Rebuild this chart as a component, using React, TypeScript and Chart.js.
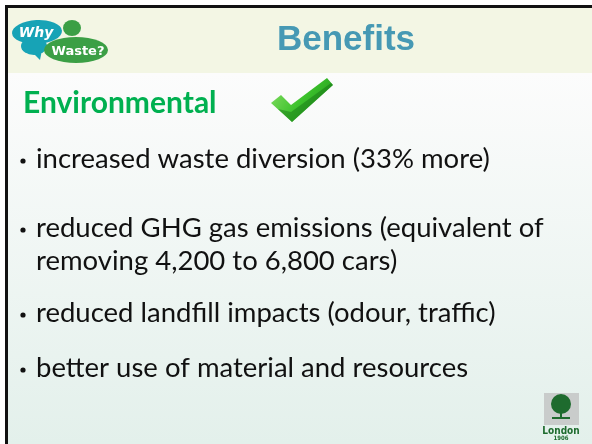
import React, { useEffect, useRef } from "react";
import { Chart, registerables } from "chart.js";

Chart.register(...registerables);

const slideTitle = "Benefits";
const heading = "Environmental";
const bulletLines: string[][] = [
  ["increased waste diversion (33% more)"],
  ["reduced GHG gas emissions (equivalent of", "removing 4,200 to 6,800 cars)"],
  ["reduced landfill impacts (odour, traffic)"],
  ["better use of material and resources"],
];
const logoWords = ["Why", "Waste?"];
const cornerLogoText = "London";

const BODY_FONT = '"Lato", "Open Sans", sans-serif';

const slidePlugin = {
  id: "slide",
  beforeDraw(chart: any) {
    const ctx: CanvasRenderingContext2D = chart.ctx;
    const sx = chart.scales.x;
    const sy = chart.scales.y;
    const X = (v: number) => sx.getPixelForValue(v);
    const Y = (v: number) => sy.getPixelForValue(v);
    const W = chart.width;
    const H = chart.height;
    ctx.save();

    // page white
    ctx.fillStyle = "#ffffff";
    ctx.fillRect(0, 0, W, H);

    // body gradient
    const g = ctx.createLinearGradient(0, Y(73), 0, Y(444));
    g.addColorStop(0, "#fcfcfc");
    g.addColorStop(1, "#e3f0eb");
    ctx.fillStyle = g;
    ctx.fillRect(X(8), Y(73), W - X(8), H - Y(73));

    // header band
    ctx.fillStyle = "#f3f6e4";
    ctx.fillRect(X(8), Y(8), W - X(8), Y(73) - Y(8));

    // borders
    ctx.fillStyle = "#111111";
    ctx.fillRect(X(5), Y(5), W - X(5), 3);
    ctx.fillRect(X(5), Y(5), 3, H - Y(5));

    // Why Waste logo
    ctx.fillStyle = "#3b9f45";
    ctx.beginPath();
    ctx.ellipse(X(72), Y(28), 9, 8, 0, 0, Math.PI * 2);
    ctx.fill();
    ctx.fillStyle = "#17a3b6";
    ctx.beginPath();
    ctx.ellipse(X(37), Y(32), 25, 12, -0.05, 0, Math.PI * 2);
    ctx.fill();
    ctx.beginPath();
    ctx.ellipse(X(34), Y(46), 13, 9, 0, 0, Math.PI * 2);
    ctx.fill();
    ctx.beginPath();
    ctx.moveTo(X(30), Y(50));
    ctx.lineTo(X(40), Y(60));
    ctx.lineTo(X(42), Y(50));
    ctx.fill();
    ctx.fillStyle = "#3b9f45";
    ctx.beginPath();
    ctx.ellipse(X(76), Y(50), 32, 13, 0, 0, Math.PI * 2);
    ctx.fill();
    ctx.fillStyle = "#ffffff";
    ctx.font = 'italic bold 14px "DejaVu Sans", sans-serif';
    ctx.textAlign = "center";
    ctx.textBaseline = "alphabetic";
    ctx.fillText(logoWords[0], X(36), Y(37));
    ctx.font = 'bold 13px "DejaVu Sans", sans-serif';
    ctx.fillText(logoWords[1], X(78), Y(55));

    // Title
    ctx.fillStyle = "#4699b4";
    ctx.font = 'bold 35px "Liberation Sans", Arial, sans-serif';
    ctx.textAlign = "center";
    ctx.fillText(slideTitle, X(346), Y(50));

    // Heading
    ctx.textAlign = "left";
    ctx.fillStyle = "#00b050";
    ctx.font = "bold 30px " + BODY_FONT;
    ctx.fillText(heading, X(23), Y(113));

    // checkmark
    const cg = ctx.createLinearGradient(X(270), Y(80), X(332), Y(122));
    cg.addColorStop(0, "#8ee06a");
    cg.addColorStop(0.5, "#3cc22c");
    cg.addColorStop(1, "#1f8f1a");
    ctx.fillStyle = cg;
    ctx.beginPath();
    ctx.moveTo(X(271), Y(103));
    ctx.lineTo(X(281), Y(95));
    ctx.lineTo(X(291), Y(105));
    ctx.lineTo(X(327), Y(78));
    ctx.lineTo(X(333), Y(85));
    ctx.lineTo(X(292), Y(122));
    ctx.closePath();
    ctx.fill();
    ctx.fillStyle = "rgba(20,110,20,0.45)";
    ctx.beginPath();
    ctx.moveTo(X(291), Y(112));
    ctx.lineTo(X(331), Y(83));
    ctx.lineTo(X(333), Y(85));
    ctx.lineTo(X(292), Y(122));
    ctx.lineTo(X(278), Y(109));
    ctx.closePath();
    ctx.fill();

    // bullets
    ctx.fillStyle = "#111111";
    ctx.font = "27.5px " + BODY_FONT;
    const baselines = [[168], [237, 270], [322], [377]];
    bulletLines.forEach((lines, i) => {
      ctx.beginPath();
      ctx.arc(X(23), Y(baselines[i][0] - 7), 2.6, 0, Math.PI * 2);
      ctx.fill();
      lines.forEach((line, j) => {
        ctx.fillText(line, X(36), Y(baselines[i][j]));
      });
    });

    // corner logo
    ctx.fillStyle = "#c9cccb";
    ctx.fillRect(X(544), Y(393), 35, 32);
    ctx.fillStyle = "#1e6b2e";
    ctx.beginPath();
    ctx.arc(X(561), Y(404), 10, 0, Math.PI * 2);
    ctx.fill();
    ctx.fillRect(X(560), Y(406), 2, 12);
    ctx.fillRect(X(552), Y(417), 18, 2);
    ctx.font = 'bold 10px "DejaVu Sans Condensed", sans-serif';
    ctx.textAlign = "center";
    ctx.fillText(cornerLogoText, X(561), Y(434));
    ctx.font = 'bold 6px "DejaVu Sans Condensed", sans-serif';
    ctx.fillText("1906", X(561), Y(440));

    ctx.restore();
  },
};

export default function App() {
  const ref = useRef<HTMLCanvasElement | null>(null);
  useEffect(() => {
    if (!ref.current) return;
    const chart = new Chart(ref.current, {
      type: "scatter",
      data: { datasets: [] },
      options: {
        responsive: false,
        animation: false,
        devicePixelRatio: 1,
        layout: { padding: 0 },
        scales: {
          x: { type: "linear", min: 0, max: 592, display: false },
          y: { type: "linear", min: 0, max: 444, reverse: true, display: false },
        },
        plugins: { legend: { display: false }, tooltip: { enabled: false }, title: { display: false } },
      },
      plugins: [slidePlugin],
    } as any);
    return () => chart.destroy();
  }, []);
  return (
    <div style={{ position: "fixed", left: 0, top: 0, width: 592, height: 444 }}>
      <canvas ref={ref} width={592} height={444} style={{ display: "block" }} />
    </div>
  );
}
